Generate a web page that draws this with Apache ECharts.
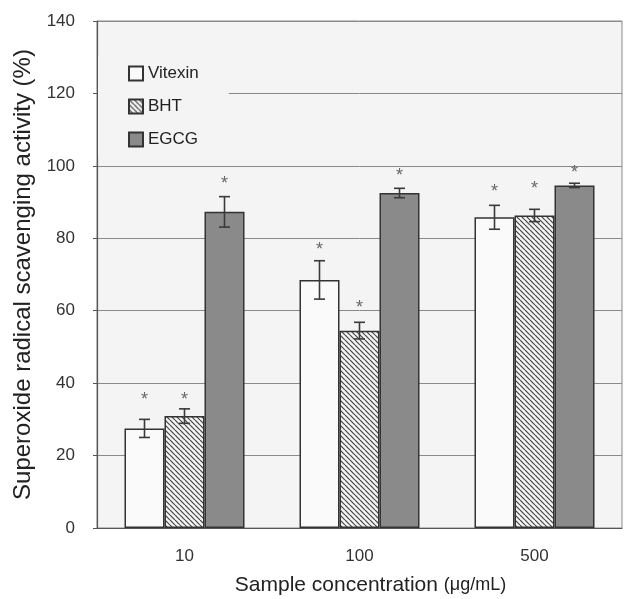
<!DOCTYPE html>
<html>
<head>
<meta charset="utf-8">
<script src="https://cdn.jsdelivr.net/npm/echarts@6/dist/echarts.min.js"></script>
<style>html,body{margin:0;padding:0;background:#fff;}#c{width:625px;height:599px;}</style>
</head>
<body>
<div id="c"></div>
<script>
var categories = ['10', '100', '500'];
var seriesNames = ['Vitexin', 'BHT', 'EGCG'];
var vitexin = [27.5, 68.5, 85.8];
var vitexinErr = [2.5, 5.3, 3.3];
var vitexinStar = [36.5, 77.8, 94.0];
var bht = [30.9, 54.5, 86.3];
var bhtErr = [2.0, 2.3, 1.7];
var bhtStar = [36.5, 61.8, 94.6];
var egcg = [87.3, 92.5, 94.6];
var egcgErr = [4.2, 1.3, 0.6];
var egcgStar = [96.1, 98.4, 99.1];
var yTicks = [0, 20, 40, 60, 80, 100, 120, 140];

function hatch() {
  var n = 5;
  var cv = document.createElement('canvas');
  cv.width = n; cv.height = n;
  var ctx = cv.getContext('2d');
  ctx.fillStyle = '#f4f4f4';
  ctx.fillRect(0, 0, n, n);
  ctx.strokeStyle = '#444';
  ctx.lineWidth = 1.2;
  [-n, 0, n].forEach(function (k) {
    ctx.beginPath();
    ctx.moveTo(k, 0);
    ctx.lineTo(k + n, n);
    ctx.stroke();
  });
  return cv;
}

var chart = echarts.init(document.getElementById('c'), null, {renderer: 'canvas'});
var BW = 40;
var means = [vitexin, bht, egcg];
var errs = [vitexinErr, bhtErr, egcgErr];
var stars = [vitexinStar, bhtStar, egcgStar];

function errSeries(si) {
  var data = categories.map(function (c, i) { return [i, means[si][i], errs[si][i], stars[si][i]]; });
  return {
    type: 'custom',
    z: 10,
    silent: true,
    data: data,
    renderItem: function (params, api) {
      var i = api.value(0), m = api.value(1), e = api.value(2), s = api.value(3);
      var top = api.coord([i, m + e]);
      var bot = api.coord([i, m - e]);
      var sp = api.coord([i, s]);
      var x = top[0] + (si - 1) * BW;
      var cw = 5.5;
      var st = {stroke: '#3a3a3a', lineWidth: 1.6};
      return {
        type: 'group',
        children: [
          {type: 'line', shape: {x1: x, y1: top[1], x2: x, y2: bot[1]}, style: st},
          {type: 'line', shape: {x1: x - cw, y1: top[1], x2: x + cw, y2: top[1]}, style: st},
          {type: 'line', shape: {x1: x - cw, y1: bot[1], x2: x + cw, y2: bot[1]}, style: st},
          {type: 'text', x: x, y: sp[1] + 4, style: {text: '*', fill: '#666', font: '18px "Liberation Sans", Arial, sans-serif', align: 'center', verticalAlign: 'middle'}}
        ]
      };
    }
  };
}

var barBase = {
  type: 'bar',
  barWidth: BW,
  barGap: '0%'
};

var option = {
  animation: false,
  backgroundColor: '#fff',
  textStyle: {fontFamily: '"Liberation Sans", Arial, sans-serif'},
  grid: {left: 97, right: 3, top: 21, bottom: 71, outerBoundsMode: 'none', containLabel: false, show: true, backgroundColor: '#f4f4f4', borderColor: '#8a8a8a', borderWidth: 1},
  legend: {
    orient: 'vertical',
    left: 98, top: 56,
    padding: [9, 30, 9, 30],
    backgroundColor: '#f4f4f4',
    icon: 'rect',
    itemWidth: 14, itemHeight: 14, itemGap: 16,
    data: seriesNames,
    textStyle: {fontSize: 17, color: '#222', fontFamily: '"Liberation Sans", Arial, sans-serif'},
    selectedMode: false
  },
  xAxis: {
    type: 'category',
    data: categories,
    axisLine: {lineStyle: {color: '#555', width: 1.2}},
    axisTick: {inside: true, length: 6, lineStyle: {color: '#555'}},
    axisLabel: {fontSize: 17, color: '#333', margin: 20},
    name: 'Sample concentration {s|(μg/mL)}',
    nameLocation: 'middle',
    nameGap: 47,
    nameTextStyle: {fontSize: 21, color: '#222', padding: [0, 0, 0, 22], rich: {s: {fontSize: 18, color: '#222'}}}
  },
  yAxis: {
    type: 'value',
    min: 0, max: 140, interval: 20,
    axisLine: {show: true, lineStyle: {color: '#555', width: 1.2}},
    axisTick: {show: true, length: 4, lineStyle: {color: '#555'}},
    axisLabel: {fontSize: 17, color: '#333', margin: 22},
    splitLine: {lineStyle: {color: '#8a8a8a', width: 1}},
    name: 'Superoxide radical scavenging activity (%)',
    nameLocation: 'middle',
    nameGap: 59,
    nameTextStyle: {fontSize: 24, color: '#222'}
  },
  series: [
    Object.assign({}, barBase, {name: seriesNames[0], data: vitexin, itemStyle: {color: '#fafafa', borderColor: '#333', borderWidth: 1.5}}),
    Object.assign({}, barBase, {name: seriesNames[1], data: bht, itemStyle: {color: {image: hatch(), repeat: 'repeat'}, borderColor: '#333', borderWidth: 1.5}}),
    Object.assign({}, barBase, {name: seriesNames[2], data: egcg, itemStyle: {color: '#8a8a8a', borderColor: '#333', borderWidth: 1.5}}),
    errSeries(0), errSeries(1), errSeries(2)
  ]
};
chart.setOption(option);
</script>
</body>
</html>
